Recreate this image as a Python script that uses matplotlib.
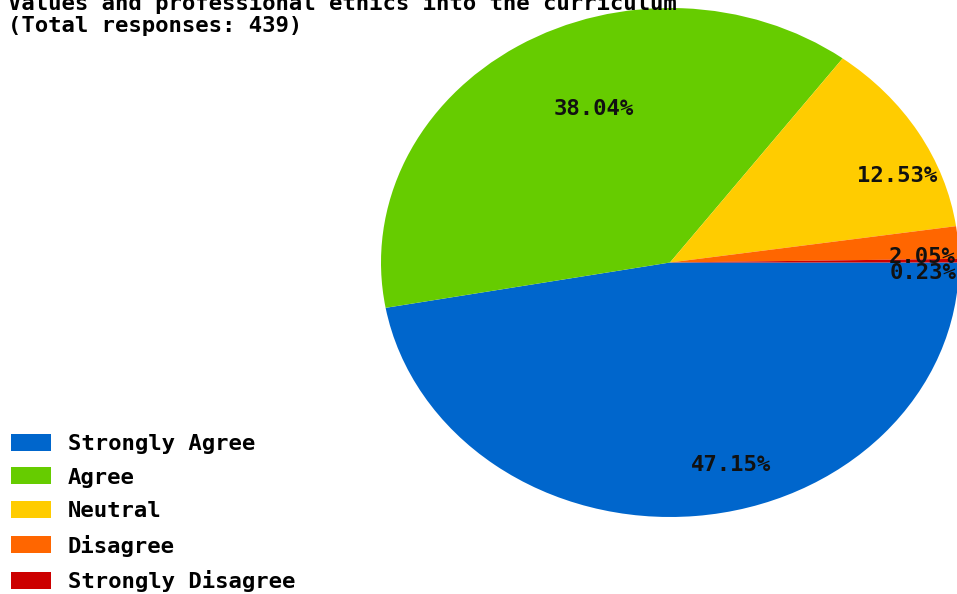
import matplotlib
matplotlib.use("Agg")
import matplotlib.pyplot as plt
import numpy as np

categories = ["Strongly Agree", "Agree", "Neutral", "Disagree", "Strongly Disagree"]
values = [47.15, 38.04, 12.53, 2.05, 0.23]
colors = ["#0066CC", "#66CC00", "#FFCC00", "#FF6600", "#CC0000"]
title_line1 = "Values and professional ethics into the curriculum"
title_line2 = "(Total responses: 439)"

W, H = 957, 594
fig = plt.figure(figsize=(W / 100, H / 100), dpi=100)
fig.patch.set_facecolor("white")

font = dict(family="DejaVu Sans Mono", weight="bold")
fs = 16

# pie axes (elliptical pie)
cx, cy, rx, ry = 670, 262.5, 289, 254.5
ax = fig.add_axes([(cx - rx) / W, (H - (cy + ry)) / H, 2 * rx / W, 2 * ry / H])
wedges, _ = ax.pie(values, colors=colors, startangle=0, counterclock=False,
                   radius=1, wedgeprops=dict(linewidth=0))
ax.set_aspect("auto")
ax.set_xlim(-1, 1)
ax.set_ylim(-1, 1)
ax.axis("off")

label_r = [0.80, 0.71, 0.74, 0.76, 0.76]
dx_extra = [0, -0.03, 0.01, 0, 0]
dy_extra = [0, 0, -0.04, -0.04, -0.045]
for w, v, r, dx, dy in zip(wedges, values, label_r, dx_extra, dy_extra):
    mid = np.deg2rad((w.theta1 + w.theta2) / 2)
    x = r * np.cos(mid) + dx
    y = r * np.sin(mid) + dy
    ax.text(x, y, f"{v:.2f}%", ha="left", va="center", fontsize=fs, color="#111111",
            clip_on=False, **font)

fig.text(8 / W, 1 - 3 / H, title_line1, ha="left", va="center", fontsize=fs, **font)
fig.text(8 / W, 1 - 26 / H, title_line2, ha="left", va="center", fontsize=fs, **font)

leg = fig.legend(wedges, categories, loc="upper left",
                 bbox_to_anchor=(2 / W, 1 - 425 / H), frameon=False,
                 prop=dict(family="DejaVu Sans Mono", weight="bold", size=fs),
                 handlelength=1.8, handleheight=0.8, handletextpad=0.75,
                 labelspacing=0.6, borderaxespad=0)

fig.savefig("out.png", dpi=100, facecolor="white")
